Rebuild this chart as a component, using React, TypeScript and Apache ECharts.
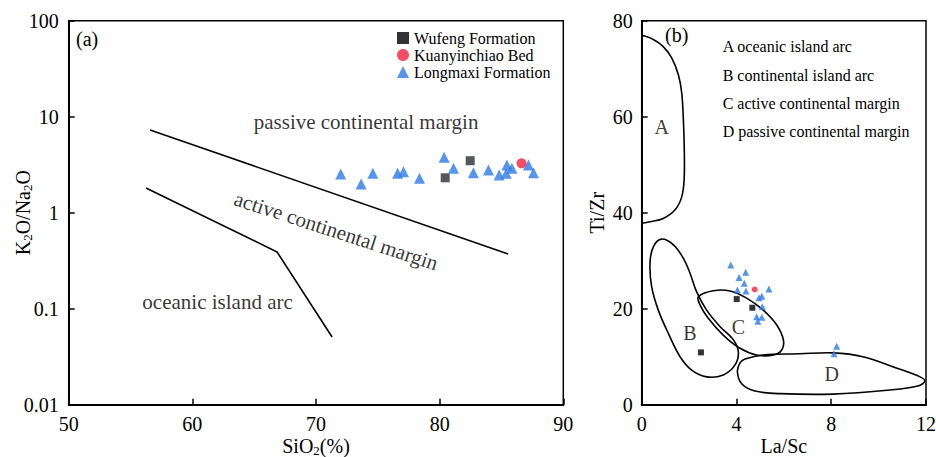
import React, { useEffect, useRef } from "react";
import * as echarts from "echarts";

const FONT = "Liberation Serif";

// ---- Panel (a): SiO2 vs K2O/Na2O ----
const wufengA = [
  [80.45, 2.31],
  [82.47, 3.48],
];
const kuanyinchiaoA = [[86.62, 3.27]];
const longmaxiA = [
  [72.0, 2.53],
  [73.65, 1.99],
  [74.6, 2.57],
  [76.6, 2.57],
  [77.07, 2.67],
  [78.37, 2.28],
  [80.36, 3.78],
  [81.12, 2.9],
  [82.73, 2.61],
  [83.95, 2.78],
  [84.81, 2.47],
  [85.44, 3.14],
  [85.38, 2.57],
  [85.84, 2.9],
  [87.18, 3.14],
  [87.59, 2.61],
];
const passiveActiveBoundary = [
  [56.58, 7.27],
  [85.54, 0.371],
];
const activeOceanicBoundary = [
  [56.25, 1.81],
  [66.85, 0.39],
  [71.3, 0.0507],
];
const zoneNamesA = ["passive continental margin", "active continental margin", "oceanic island arc"];
const zoneAnchorsA = [
  [74.05, 8.87],
  [71.63, 0.645],
  [62.04, 0.118],
];
const zoneRotateA = [0, -18, 0];
const logTickLabels = ["0.01", "0.1", "1", "10", "100"];

// ---- Panel (b): La/Sc vs Ti/Zr ----
const wufengB = [
  [4.01, 22.0],
  [4.67, 20.2],
  [2.5, 10.9],
];
const kuanyinchiaoB = [[4.77, 24.0]];
const longmaxiB = [
  [3.76, 29.1],
  [4.39, 27.6],
  [4.11, 26.5],
  [4.33, 25.3],
  [4.04, 23.9],
  [4.4, 23.7],
  [5.37, 24.1],
  [5.07, 22.6],
  [4.95, 22.3],
  [5.09, 20.4],
  [4.85, 18.3],
  [5.07, 18.2],
  [4.9, 17.4],
  [8.23, 12.2],
  [8.12, 10.6],
];
const fieldA = [
  [0, 76.95], [0.49, 76.1], [0.91, 74.6], [1.27, 72.2], [1.55, 68.7], [1.69, 64.9], [1.76, 59.3],
  [1.8, 52.4], [1.79, 46.8], [1.69, 43.3], [1.41, 40.6], [0.91, 38.8], [0.35, 38.1], [0, 37.8],
];
const fieldB = [
  [0.84, 34.5], [1.34, 33.3], [1.76, 30.5], [2.04, 27.4], [2.32, 23.5], [2.74, 19.7], [3.31, 16.25],
  [3.87, 13.5], [4.08, 11.0], [3.94, 8.3], [3.44, 6.2], [2.74, 5.8], [2.11, 7.2], [1.62, 10.0],
  [1.12, 14.9], [0.7, 19.7], [0.42, 24.6], [0.35, 29.5], [0.49, 32.9],
];
const fieldC = [
  [2.39, 22.5], [3.02, 23.75], [3.73, 23.7], [4.43, 22.2], [5.13, 19.7], [5.7, 16.6], [5.98, 13.5],
  [5.91, 11.4], [5.56, 10.35], [4.85, 10.35], [4.15, 11.75], [3.44, 14.5], [2.81, 18.0], [2.46, 20.8],
];
const fieldD = [
  [4.36, 9.5], [5.12, 10.35], [6.68, 10.6], [8.07, 10.8], [9.34, 10.0], [10.78, 7.6], [11.75, 5.8],
  [11.95, 4.9], [11.66, 3.9], [10.48, 3.06], [8.07, 2.2], [5.84, 2.3], [4.78, 2.85], [4.23, 4.3],
  [4.04, 6.8], [4.15, 8.7],
];
const fieldLetters = ["A", "B", "C", "D"];
const fieldLetterAnchors = [
  [0.84, 57.9],
  [2.04, 14.9],
  [4.08, 16.1],
  [8.02, 6.4],
];
const fieldKey = [
  "A oceanic island arc",
  "B continental island arc",
  "C active continental margin",
  "D passive continental margin",
];

const seriesNames = ["Wufeng Formation", "Kuanyinchiao Bed", "Longmaxi Formation"];

const rich = {
  n: { fontSize: 20, fontFamily: FONT, color: "#000", lineHeight: 22 },
  s: { fontSize: 13, fontFamily: FONT, color: "#000", lineHeight: 11, verticalAlign: "bottom" },
  l: { fontSize: 16, fontFamily: FONT, color: "#000", lineHeight: 16 },
};

const axisBase = {
  axisLine: { lineStyle: { color: "#000", width: 2 } },
  axisTick: { inside: true, length: 6, lineStyle: { color: "#000", width: 1.5 } },
  splitLine: { show: false },
  nameLocation: "middle",
  nameMoveOverlap: false,
  nameTextStyle: { color: "#000", fontSize: 20, fontFamily: FONT, rich },
};

function tickLabel(margin: number, formatter: (v: number) => string) {
  return {
    color: "#000",
    fontSize: 20,
    fontFamily: FONT,
    margin,
    rich,
    formatter: (v: number) => `{n|${formatter(v)}}`,
  };
}

function outline(points: number[][], closed: boolean) {
  return {
    type: "custom",
    xAxisIndex: 1,
    yAxisIndex: 1,
    silent: true,
    clip: false,
    z: 1,
    data: [points[0]],
    renderItem: (_params: any, api: any) => ({
      type: closed ? "polygon" : "polyline",
      shape: { points: points.map((p) => api.coord(p)), smooth: 0.35 },
      style: { fill: "none", stroke: "#000", lineWidth: 1.6 },
    }),
  };
}

function boundary(points: number[][]) {
  return {
    type: "line",
    xAxisIndex: 0,
    yAxisIndex: 0,
    data: points,
    symbol: "none",
    silent: true,
    z: 1,
    lineStyle: { color: "#000", width: 1.6 },
  };
}

function textMarks(names: string[], anchors: number[][], rotate: number[], axis: number, size: number) {
  return {
    type: "scatter",
    xAxisIndex: axis,
    yAxisIndex: axis,
    symbolSize: 0,
    silent: true,
    data: names.map((name, i) => ({
      name,
      value: anchors[i],
      label: { rotate: rotate[i] },
    })),
    label: {
      show: true,
      position: "inside",
      formatter: "{b}",
      color: "#000",
      fontSize: size,
      fontFamily: FONT,
    },
  };
}

export default function App() {
  const ref = useRef<HTMLDivElement>(null);

  useEffect(() => {
    if (!ref.current) return;
    const chart = echarts.init(ref.current, undefined, { renderer: "svg" });

    const gridBase = {
      top: 20.7,
      height: 384,
      show: true,
      borderColor: "#000",
      borderWidth: 1.5,
      containLabel: false,
      outerBoundsMode: "none",
    };

    const option = {
      animation: false,
      backgroundColor: "#fff",
      textStyle: { fontFamily: FONT },
      grid: [
        { ...gridBase, left: 68.7, width: 494.6 },
        { ...gridBase, left: 641.7, width: 284.3 },
      ],
      xAxis: [
        {
          ...axisBase,
          gridIndex: 0,
          type: "value",
          min: 50,
          max: 90,
          interval: 10,
          name: "{n|SiO}{s|2}{n|(%)}",
          nameGap: 30,
          axisLabel: tickLabel(8, (v) => String(v)),
        },
        {
          ...axisBase,
          gridIndex: 1,
          type: "value",
          min: 0,
          max: 12,
          interval: 4,
          name: "{n|La/Sc}",
          nameGap: 30,
          axisLabel: tickLabel(8, (v) => String(v)),
        },
      ],
      yAxis: [
        {
          ...axisBase,
          gridIndex: 0,
          type: "log",
          logBase: 10,
          min: 0.01,
          max: 100,
          name: "{n|K}{s|2}{n|O/Na}{s|2}{n|O}",
          nameGap: 35,
          axisLabel: tickLabel(10, (v) => logTickLabels[Math.round(Math.log10(v)) + 2] ?? ""),
        },
        {
          ...axisBase,
          gridIndex: 1,
          type: "value",
          min: 0,
          max: 80,
          interval: 20,
          name: "{n|Ti/Zr}",
          nameGap: 34,
          axisLabel: tickLabel(9, (v) => String(v)),
        },
      ],
      legend: {
        data: [
          { name: seriesNames[0], itemStyle: { color: "#000" } },
          { name: seriesNames[1] },
          { name: seriesNames[2] },
        ],
        orient: "vertical",
        left: 392,
        top: 25,
        itemWidth: 12,
        itemHeight: 12,
        itemGap: 1,
        selectedMode: false,
        formatter: (name: string) => `{l|${name}}`,
        textStyle: { color: "#000", fontSize: 16, fontFamily: FONT, rich },
      },
      graphic: [
        { type: "text", x: 76, y: 39, style: { text: "(a)", fontSize: 20, fontFamily: FONT, fill: "#000", verticalAlign: "middle" } },
        { type: "text", x: 665, y: 35, style: { text: "(b)", fontSize: 20, fontFamily: FONT, fill: "#000", verticalAlign: "middle" } },
        ...fieldKey.map((t, i) => ({
          type: "text",
          x: 722.7,
          y: 46.7 + i * 28.4,
          style: { text: t, fontSize: 16, fontFamily: FONT, fill: "#000", verticalAlign: "middle" },
        })),
      ],
      series: [
        boundary(passiveActiveBoundary),
        boundary(activeOceanicBoundary),
        textMarks(zoneNamesA, zoneAnchorsA, zoneRotateA, 0, 21),
        outline(fieldA, false),
        outline(fieldB, true),
        outline(fieldC, true),
        outline(fieldD, true),
        textMarks(fieldLetters, fieldLetterAnchors, [0, 0, 0, 0], 1, 20),
        {
          name: seriesNames[0], type: "scatter", xAxisIndex: 0, yAxisIndex: 0, z: 3,
          symbol: "rect", symbolSize: 9, itemStyle: { color: "#2a2f33" }, data: wufengA,
        },
        {
          name: seriesNames[1], type: "scatter", xAxisIndex: 0, yAxisIndex: 0, z: 3,
          symbol: "circle", symbolSize: 10, itemStyle: { color: "#f5203c" }, data: kuanyinchiaoA,
        },
        {
          name: seriesNames[2], type: "scatter", xAxisIndex: 0, yAxisIndex: 0, z: 3,
          symbol: "triangle", symbolSize: 11, itemStyle: { color: "#2c7be6" }, data: longmaxiA,
        },
        {
          name: seriesNames[0], type: "scatter", xAxisIndex: 1, yAxisIndex: 1, z: 3,
          symbol: "rect", symbolSize: 6, itemStyle: { color: "#000" }, data: wufengB,
        },
        {
          name: seriesNames[1], type: "scatter", xAxisIndex: 1, yAxisIndex: 1, z: 3,
          symbol: "circle", symbolSize: 6, itemStyle: { color: "#f5203c" }, data: kuanyinchiaoB,
        },
        {
          name: seriesNames[2], type: "scatter", xAxisIndex: 1, yAxisIndex: 1, z: 3,
          symbol: "triangle", symbolSize: 7, itemStyle: { color: "#2c7be6" }, data: longmaxiB,
        },
      ],
    };

    chart.setOption(option as any);
    return () => chart.dispose();
  }, []);

  return (
    <div
      ref={ref}
      style={{ position: "fixed", left: 0, top: 0, width: 936, height: 457, background: "#fff" }}
    />
  );
}
